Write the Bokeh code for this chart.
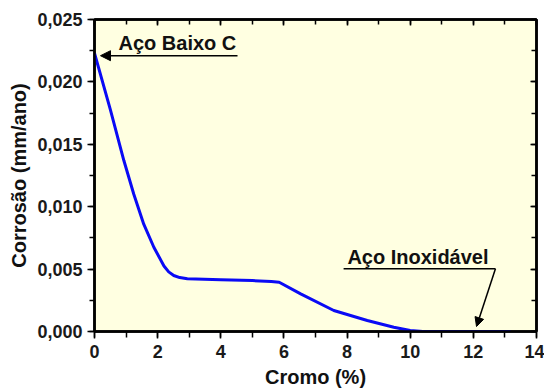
from bokeh.plotting import figure
from bokeh.models import (Range1d, LinearAxis, SingleIntervalTicker, CustomJSTickFormatter,
                          Label, Arrow, NormalHead)
from bokeh.embed import file_html
from bokeh.resources import INLINE

# ---- data ----
cromo = [0, 0.5, 0.93, 1.245, 1.56, 1.88, 2.2, 2.35, 2.51, 2.7, 2.94, 4.0, 5.0, 5.6, 5.85,
         6.53, 7.58, 8.64, 9.48, 10.0, 10.4, 11.5, 13.18]
corrosao = [0.0223, 0.0178, 0.0137, 0.0110, 0.0086, 0.00675, 0.00525, 0.00478, 0.00449,
            0.00432, 0.00422, 0.00414, 0.00408, 0.00401, 0.00395, 0.00302, 0.00168,
            0.00088, 0.00034, 0.00008, 0.00001, 0.0, 0.0]

x_label = "Cromo (%)"
y_label = "Corrosão (mm/ano)"
note1 = "Aço Baixo C"
note2 = "Aço Inoxidável"
note1_pos = (0.76, 0.0231)
note1_line = (4.53, 0.19, 0.0221)       # x_start, x_end, y
note2_pos = (8.01, 0.00595)
note2_line = (7.89, 12.70, 0.00502)     # x_start, x_end, y
note2_tip = (12.10, 0.0004)

FONT = "Liberation Sans"

p = figure(frame_width=442, frame_height=312,
           x_range=Range1d(0, 14), y_range=Range1d(0, 0.025),
           output_backend="svg", toolbar_location=None,
           min_border_left=94, min_border_top=19, min_border_right=8,
           min_border_bottom=57,
           background_fill_color="#FFFFE1", border_fill_color="white")
p.xgrid.visible = False
p.ygrid.visible = False
p.outline_line_color = "black"
p.outline_line_width = 2.5

p.line(cromo, corrosao, line_color="#0A0AF5", line_width=3, line_join="round")

def style_axis(ax):
    ax.axis_line_width = 2.5
    ax.axis_line_color = "black"
    ax.major_tick_line_width = 1.5
    ax.minor_tick_line_width = 1.5
    ax.major_label_text_font = FONT
    ax.major_label_text_font_style = "bold"
    ax.major_label_text_font_size = "18px"
    ax.major_label_text_color = "#1a1a1a"
    ax.axis_label_text_font = FONT
    ax.axis_label_text_font_style = "bold"
    ax.axis_label_text_font_size = "20px"
    ax.axis_label_text_color = "#111111"

xa = p.xaxis[0]
xa.ticker = SingleIntervalTicker(interval=2, num_minor_ticks=2)
xa.axis_label = x_label
style_axis(xa)
xa.major_tick_out = 7
xa.major_tick_in = 0
xa.minor_tick_out = 6
xa.minor_tick_in = 0
xa.major_label_standoff = 6
xa.axis_label_standoff = 5

ya = p.yaxis[0]
ya.ticker = SingleIntervalTicker(interval=0.005, num_minor_ticks=2)
ya.axis_label = y_label
ya.formatter = CustomJSTickFormatter(code="return tick.toFixed(3).replace('.', ',');")
style_axis(ya)
ya.major_tick_out = 7
ya.major_tick_in = 0
ya.minor_tick_out = 5
ya.minor_tick_in = 0
ya.major_label_standoff = 5
ya.axis_label_standoff = 4

blank = CustomJSTickFormatter(code="return '';")
top = LinearAxis(ticker=SingleIntervalTicker(interval=2, num_minor_ticks=2), formatter=blank)
style_axis(top)
top.major_tick_in = 6
top.major_tick_out = 0
top.minor_tick_in = 5
top.minor_tick_out = 0
top.major_label_standoff = 0
p.add_layout(top, "above")

right = LinearAxis(ticker=SingleIntervalTicker(interval=0.005, num_minor_ticks=2), formatter=blank)
style_axis(right)
right.major_tick_in = 6
right.major_tick_out = 0
right.minor_tick_in = 5
right.minor_tick_out = 0
right.major_label_standoff = 0
p.add_layout(right, "right")

# annotations
p.add_layout(Label(x=note1_pos[0], y=note1_pos[1], text=note1, text_font=FONT,
                   text_font_style="bold", text_font_size="20px", text_color="#111111",
                   text_baseline="alphabetic"))
p.add_layout(Arrow(end=NormalHead(size=10, fill_color="black", line_color="black"),
                   x_start=note1_line[0], y_start=note1_line[2],
                   x_end=note1_line[1], y_end=note1_line[2],
                   line_width=1.5, line_color="black"))

p.add_layout(Label(x=note2_pos[0], y=note2_pos[1], text=note2, text_font=FONT,
                   text_font_style="bold", text_font_size="20px", text_color="#111111",
                   text_baseline="alphabetic"))
p.add_layout(Arrow(end=None, x_start=note2_line[0], y_start=note2_line[2],
                   x_end=note2_line[1], y_end=note2_line[2],
                   line_width=1.5, line_color="black"))
p.add_layout(Arrow(end=NormalHead(size=9, fill_color="black", line_color="black"),
                   x_start=note2_line[1], y_start=note2_line[2],
                   x_end=note2_tip[0], y_end=note2_tip[1],
                   line_width=1.5, line_color="black"))

open("out.html", "w").write(file_html(p, INLINE))
